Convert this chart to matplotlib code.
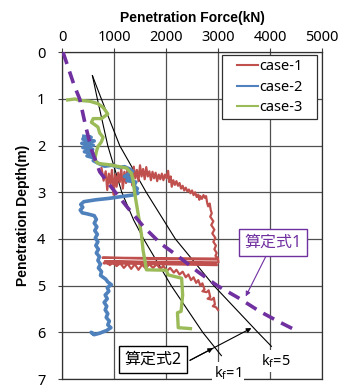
import matplotlib
matplotlib.use("Agg")
import matplotlib.pyplot as plt
from matplotlib.patches import Rectangle

plt.rcParams['font.family'] = ['Noto Sans', 'Noto Sans CJK JP', 'DejaVu Sans']

# ---- data (force kN, depth m) ----
x_ticks = [0, 1000, 2000, 3000, 4000, 5000]
y_ticks = [0, 1, 2, 3, 4, 5, 6, 7]

case1_force = [760, 800, 840, 870, 900, 930, 960, 990, 1020, 1050, 1080, 1110, 1140, 1170, 1200,
               1230, 1260, 1290, 1320, 1350, 1380, 1410, 1440, 1470, 1500, 1530, 1560, 1590, 1620,
               1650, 1680, 1710, 1740, 1770, 1800, 1830, 1860, 1890, 1920, 1950, 1980, 2010, 2040,
               2060, 2090, 2110, 2140, 2170, 2200, 2230, 2260, 2290, 2320, 2350, 2380, 2410, 2440,
               2470, 2500, 2530, 2560, 2590, 2620, 2640, 2660, 2690, 2720, 2750, 2770, 2790, 2810,
               2840, 2860, 2880, 2850, 2910, 2870, 2930, 2890, 2950, 2910, 2960, 2930, 2975, 2950,
               2990, 3000,
               780, 1200, 2000, 3000, 3010, 820, 1700, 2950, 2980, 800,
               860, 920, 980, 1050, 1120, 1190, 1260, 1330, 1400, 1470, 1540, 1610, 1680, 1750,
               1820, 1890, 1950, 2020, 2080, 2150, 2200, 2260, 2320, 2380, 2430, 2480, 2530, 2580,
               2620, 2660, 2700, 2740, 2700, 2780, 2820, 2850, 2800, 2880, 2920, 2940, 2900, 2960,
               3000]
case1_depth = [2.48, 2.75, 2.55, 2.95, 2.60, 2.82, 2.52, 3.05, 2.62, 2.88, 2.58, 2.78, 2.50, 2.92,
               2.56, 2.80, 2.48, 2.72, 2.55, 2.85, 2.45, 2.70, 2.52, 2.76, 2.42, 2.66, 2.50, 2.72,
               2.46, 2.66, 2.55, 2.74, 2.56, 2.70, 2.58, 2.76, 2.62, 2.72, 2.60, 2.74, 2.62, 2.70,
               2.54, 2.78, 2.66, 2.88, 2.74, 2.84, 2.76, 2.86, 2.80, 2.92, 2.86, 2.96, 2.90, 2.98,
               2.94, 3.02, 2.96, 3.06, 3.00, 3.10, 3.05, 3.16, 3.08, 3.14, 3.06, 3.12, 3.08, 3.22,
               3.30, 3.24, 3.38, 3.45, 3.52, 3.62, 3.70, 3.80, 3.88, 3.98, 4.06, 4.14, 4.22, 4.30,
               4.36, 4.40, 4.42,
               4.40, 4.41, 4.43, 4.44, 4.50, 4.48, 4.50, 4.52, 4.56, 4.52,
               4.50, 4.56, 4.50, 4.58, 4.52, 4.62, 4.53, 4.64, 4.54, 4.66, 4.55, 4.63, 4.54, 4.62,
               4.54, 4.64, 4.58, 4.68, 4.62, 4.72, 4.66, 4.76, 4.70, 4.82, 4.76, 4.88, 4.82, 4.94,
               4.88, 5.00, 4.95, 5.08, 5.12, 5.14, 5.10, 5.24, 5.28, 5.30, 5.26, 5.40, 5.44, 5.46,
               5.52]

case2_force = [420, 560, 400, 620, 380, 600, 400, 590, 430, 600, 480, 640, 600, 700, 820, 960,
               1100, 1200, 1300, 1360, 1200, 1320, 1250, 1420, 1380, 1450, 1420, 1460, 1350, 1150,
               900, 650, 420, 360, 400, 350, 390, 480, 620, 660, 620, 670, 630, 680, 640, 690, 650,
               700, 660, 720, 690, 740, 700, 760, 740, 840, 880, 950, 870, 900, 830, 870, 810, 860,
               830, 880, 850, 910, 880, 940, 860, 720, 620, 560, 600]
case2_depth = [1.80, 1.82, 1.86, 1.90, 1.95, 1.99, 2.04, 2.08, 2.13, 2.17, 2.22, 2.27, 2.32, 2.38,
               2.44, 2.42, 2.47, 2.45, 2.50, 2.55, 2.66, 2.70, 2.75, 2.78, 2.86, 2.92, 2.98, 3.02,
               3.06, 3.09, 3.13, 3.16, 3.20, 3.26, 3.32, 3.38, 3.44, 3.46, 3.50, 3.58, 3.66, 3.74,
               3.82, 3.90, 3.98, 4.06, 4.14, 4.22, 4.30, 4.38, 4.46, 4.54, 4.62, 4.70, 4.78, 4.86,
               4.92, 4.98, 5.04, 5.12, 5.20, 5.28, 5.36, 5.44, 5.52, 5.60, 5.68, 5.76, 5.84, 5.90,
               5.96, 6.02, 6.05, 6.00, 6.03]

case3_force = [110, 250, 340, 450, 540, 690, 790, 880, 760, 600, 565, 690, 725, 790, 757, 690, 660,
               630, 690, 917, 1240, 1335, 1365, 1398, 1462, 1527, 1560, 1600, 1623, 2006, 2040,
               2300, 2320, 2290, 2220, 2235, 2470]
case3_depth = [1.02, 1.00, 1.03, 1.04, 1.05, 1.10, 1.18, 1.32, 1.42, 1.42, 1.50, 1.60, 1.73, 1.82,
               1.92, 2.02, 2.13, 2.30, 2.38, 2.41, 2.48, 2.59, 2.73, 3.02, 3.45, 3.90, 4.25, 4.50,
               4.66, 4.67, 4.77, 4.84, 5.20, 5.55, 5.58, 5.90, 5.92]

calc1_force = [20, 231, 340, 450, 571, 725, 955, 1263, 1580, 1900, 2245, 2610, 2985, 3390, 3800,
               4200, 4538]
calc1_depth = [0.0, 0.7, 1.0, 1.56, 2.1, 2.56, 2.9, 3.33, 3.75, 4.1, 4.38, 4.7, 5.0, 5.26, 5.55,
               5.79, 5.98]

kf1_force = [585, 680, 880, 1150, 1380, 1570, 2100, 2706, 3065]
kf1_depth = [0.5, 1.0, 2.0, 3.0, 3.6, 4.0, 5.0, 6.0, 6.5]

kf5_force = [585, 757, 1110, 1620, 2180, 2920, 3766, 4027]
kf5_depth = [0.5, 1.0, 2.0, 3.0, 4.0, 5.0, 6.0, 6.3]

series_labels = ['case-1', 'case-2', 'case-3']
series_colors = ['#C0504D', '#4F81BD', '#9BBB59']
series_widths = [1.6, 2.6, 2.4]
purple = '#7030A0'

fig = plt.figure(figsize=(3.4, 3.89), dpi=100)
ax = fig.add_axes([0.1824, 0.0257, 0.7647, 0.8398])

ax.set_xlim(0, 5000)
ax.set_ylim(7, 0)
ax.set_xticks(x_ticks)
ax.set_yticks(y_ticks)
ax.xaxis.tick_top()
ax.xaxis.set_label_position('top')
ax.tick_params(axis='both', direction='out', length=3, width=0.8, color='#404040',
               labelsize=10.5, pad=2)
ax.tick_params(axis='y', pad=9)
ax.grid(True, color='#505050', linewidth=0.9)
ax.set_axisbelow(True)
for s in ax.spines.values():
    s.set_color('#303030')
    s.set_linewidth(0.9)

ax.set_xlabel('Penetration Force(kN)', fontsize=10, fontweight='bold',
              family=['Liberation Sans', 'DejaVu Sans'], labelpad=6)
ax.set_ylabel('Penetration Depth(m)', fontsize=10, fontweight='bold',
              family=['Liberation Sans', 'DejaVu Sans'], labelpad=5)

# theoretical curves
ax.plot(kf1_force, kf1_depth, color='black', lw=0.8, zorder=3)
ax.plot(kf5_force, kf5_depth, color='black', lw=0.8, zorder=3)

# measured cases
for f, d, c, lab, w in zip([case1_force, case2_force, case3_force],
                           [case1_depth, case2_depth, case3_depth],
                           series_colors, series_labels, series_widths):
    ax.plot(f, d, color=c, lw=w, label=lab, zorder=4, solid_joinstyle='round')

ax.plot(calc1_force, calc1_depth, color=purple, lw=2.6, linestyle=(0, (3.4, 2.2)), zorder=5)

# legend box (frame drawn separately for Excel-like padding)
ax.add_patch(Rectangle((0.615, 0.795), 0.366, 0.197, transform=ax.transAxes, fc='white',
                       ec='#303030', lw=0.9, zorder=9))
leg = ax.legend(loc='center', bbox_to_anchor=(0.800, 0.8935), fontsize=10.5,
                handlelength=1.4, handletextpad=0.1, labelspacing=0.38, borderpad=0.2,
                borderaxespad=0, frameon=False)
leg.set_zorder(10)
for h in leg.get_lines():
    h.set_linewidth(1.5)

# annotations
ax.annotate('算定式1', xy=(3533, 5.23), xytext=(4052, 4.08), fontsize=11.5, color=purple,
            ha='center', va='center', zorder=8,
            bbox=dict(boxstyle='square,pad=0.35', fc='white', ec=purple, lw=1.0),
            arrowprops=dict(arrowstyle='-|>', color=purple, lw=0.8, mutation_scale=7,
                            shrinkA=0, shrinkB=0))

ax.text(1744, 6.59, '算定式2', fontsize=11.5, color='black', ha='center', va='center', zorder=8,
        bbox=dict(boxstyle='square,pad=0.35', fc='white', ec='black', lw=1.0))
for tip in [(2904, 6.34), (3642, 5.91)]:
    ax.annotate('', xy=tip, xytext=(2460, 6.6), zorder=8,
                arrowprops=dict(arrowstyle='-|>', color='black', lw=0.8, mutation_scale=7,
                                shrinkA=0, shrinkB=0))

ax.text(3188, 6.88, 'k$_\\mathregular{f}$=1', fontsize=10.5, ha='center', va='center', zorder=10,
        clip_on=False, bbox=dict(boxstyle='square,pad=0.15', fc='white', ec='none'))
ax.text(4110, 6.61, 'k$_\\mathregular{f}$=5', fontsize=10.5, ha='center', va='center', zorder=10,
        bbox=dict(boxstyle='square,pad=0.15', fc='white', ec='none'))

fig.savefig('out.png', dpi=100)
